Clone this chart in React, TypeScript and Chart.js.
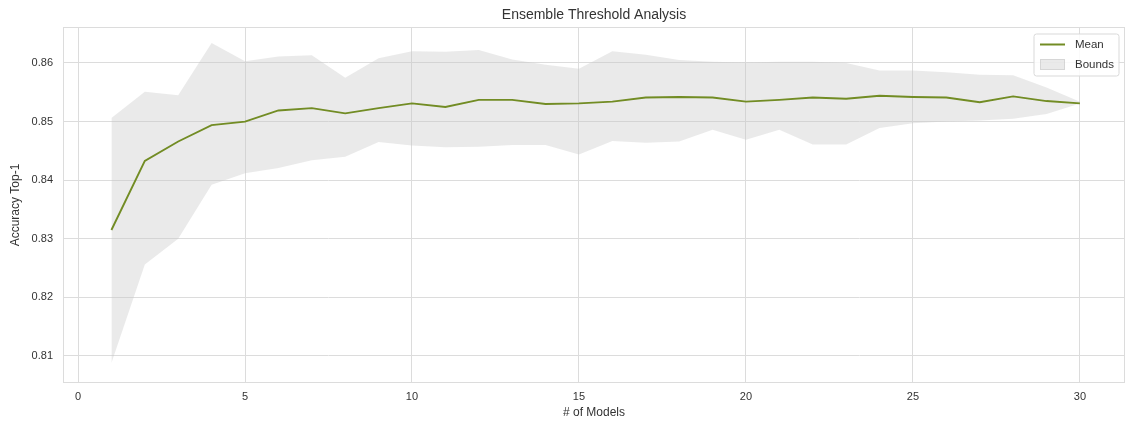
import React, { useEffect, useRef } from "react";
import { Chart, registerables } from "chart.js";

Chart.register(...registerables);

// Ensemble size on the x axis
const modelCounts = [
  1, 2, 3, 4, 5, 6, 7, 8, 9, 10, 11, 12, 13, 14, 15,
  16, 17, 18, 19, 20, 21, 22, 23, 24, 25, 26, 27, 28, 29, 30,
];

// Mean top-1 accuracy per ensemble size
const meanAccuracy = [
  0.8315, 0.8433, 0.8466, 0.8494, 0.85, 0.8519, 0.8523, 0.8514, 0.8523, 0.8531,
  0.8525, 0.8537, 0.8537, 0.853, 0.8531, 0.8534, 0.8541, 0.8542, 0.8541, 0.8534,
  0.8537, 0.8541, 0.8539, 0.8544, 0.8542, 0.8541, 0.8533, 0.8543, 0.8535, 0.8531,
];

// Upper and lower bounds of the accuracy spread
const upperBound = [
  0.8506, 0.8551, 0.8545, 0.8634, 0.8603, 0.8611, 0.8613, 0.8575, 0.8608, 0.862,
  0.8619, 0.8622, 0.8606, 0.8597, 0.859, 0.862, 0.8614, 0.8605, 0.8602, 0.8601,
  0.8602, 0.8602, 0.86, 0.8587, 0.8587, 0.8584, 0.858, 0.8579, 0.8558, 0.8534,
];

const lowerBound = [
  0.8088, 0.8256, 0.83, 0.8392, 0.8412, 0.8421, 0.8434, 0.844, 0.8465, 0.8459,
  0.8456, 0.8457, 0.846, 0.846, 0.8444, 0.8467, 0.8464, 0.8466, 0.8486, 0.8469,
  0.8486, 0.8461, 0.8461, 0.8489, 0.8497, 0.85, 0.8502, 0.8505, 0.8513, 0.8531,
];

const xTickValues = [0, 5, 10, 15, 20, 25, 30];
const yTickValues = [0.81, 0.82, 0.83, 0.84, 0.85, 0.86];

const FONT = "'Liberation Sans', Arial, sans-serif";
const TEXT_COLOR = "#333333";
const GRID_COLOR = "#dcdcdc";
const MEAN_COLOR = "#728c24";
const BAND_COLOR = "rgba(200, 200, 200, 0.38)";

const toPoints = (values: number[]) =>
  modelCounts.map((x, i) => ({ x, y: values[i] }));

// Light frame around the plotting area
const framePlugin = {
  id: "plotFrame",
  beforeDatasetsDraw(chart: any) {
    const { ctx, chartArea } = chart;
    ctx.save();
    ctx.strokeStyle = GRID_COLOR;
    ctx.lineWidth = 1;
    ctx.strokeRect(
      Math.round(chartArea.left) + 0.5,
      Math.round(chartArea.top) + 0.5,
      Math.round(chartArea.right - chartArea.left) - 1,
      Math.round(chartArea.bottom - chartArea.top) - 1
    );
    ctx.restore();
  },
};

// Legend drawn inside the upper-right corner of the plot
const insideLegendPlugin = {
  id: "insideLegend",
  afterDatasetsDraw(chart: any) {
    const { ctx, chartArea } = chart;
    const datasets = chart.data.datasets;
    const meanSet = datasets[0];
    const bandSet = datasets[2];
    const w = 85;
    const h = 42;
    const right = chartArea.right - 6;
    const left = right - w;
    const top = chartArea.top + 7;

    ctx.save();
    ctx.beginPath();
    const r = 2.5;
    ctx.moveTo(left + r, top);
    ctx.lineTo(left + w - r, top);
    ctx.quadraticCurveTo(left + w, top, left + w, top + r);
    ctx.lineTo(left + w, top + h - r);
    ctx.quadraticCurveTo(left + w, top + h, left + w - r, top + h);
    ctx.lineTo(left + r, top + h);
    ctx.quadraticCurveTo(left, top + h, left, top + h - r);
    ctx.lineTo(left, top + r);
    ctx.quadraticCurveTo(left, top, left + r, top);
    ctx.closePath();
    ctx.fillStyle = "rgba(255,255,255,0.85)";
    ctx.fill();
    ctx.strokeStyle = "#d9d9d9";
    ctx.lineWidth = 1;
    ctx.stroke();

    // Mean entry
    ctx.strokeStyle = meanSet.borderColor;
    ctx.lineWidth = 2;
    ctx.beginPath();
    ctx.moveTo(left + 6, top + 10.5);
    ctx.lineTo(left + 31, top + 10.5);
    ctx.stroke();

    // Bounds entry
    ctx.fillStyle = bandSet.backgroundColor;
    ctx.fillRect(left + 6, top + 25, 25, 11);
    ctx.strokeStyle = "rgba(200,200,200,0.6)";
    ctx.lineWidth = 1;
    ctx.strokeRect(left + 6.5, top + 25.5, 24, 10);

    ctx.fillStyle = TEXT_COLOR;
    ctx.font = `11.5px ${FONT}`;
    ctx.textAlign = "left";
    ctx.textBaseline = "middle";
    ctx.fillText(meanSet.label, left + 41, top + 11);
    ctx.fillText(bandSet.label, left + 41, top + 31);
    ctx.restore();
  },
};

export default function App() {
  const canvasRef = useRef<HTMLCanvasElement | null>(null);

  useEffect(() => {
    if (!canvasRef.current) return;
    Chart.defaults.font.family = FONT;
    Chart.defaults.color = TEXT_COLOR;

    const chart = new Chart(canvasRef.current, {
      type: "line",
      data: {
        datasets: [
          {
            label: "Mean",
            data: toPoints(meanAccuracy),
            borderColor: MEAN_COLOR,
            borderWidth: 1.9,
            pointRadius: 0,
            tension: 0,
            fill: false,
          },
          {
            label: "Lower",
            data: toPoints(lowerBound),
            borderColor: "transparent",
            borderWidth: 0,
            pointRadius: 0,
            tension: 0,
            fill: false,
          },
          {
            label: "Bounds",
            data: toPoints(upperBound),
            borderColor: "transparent",
            backgroundColor: BAND_COLOR,
            borderWidth: 0,
            pointRadius: 0,
            tension: 0,
            fill: "-1",
          },
        ],
      },
      options: {
        animation: false,
        responsive: true,
        maintainAspectRatio: false,
        layout: { padding: { left: 0, right: 5, top: 0, bottom: 0 } },
        plugins: {
          legend: { display: false },
          tooltip: { enabled: false },
          title: {
            display: true,
            fullSize: false,
            text: "Ensemble Threshold Analysis",
            color: TEXT_COLOR,
            font: { size: 14, weight: "normal", family: FONT },
            padding: { top: 6.5, bottom: 3.7 },
          },
        },
        scales: {
          x: {
            type: "linear",
            min: -0.45,
            max: 31.35,
            afterBuildTicks: (scale: any) => {
              scale.ticks = xTickValues.map((v) => ({ value: v }));
            },
            afterFit: (scale: any) => {
              scale.height = 40;
            },
            grid: { color: GRID_COLOR, lineWidth: 1, drawTicks: false },
            border: { display: false },
            ticks: {
              color: TEXT_COLOR,
              font: { size: 11, family: FONT },
              padding: 7,
              maxRotation: 0,
              callback: (v: any) => String(v),
            },
            title: {
              display: true,
              text: "# of Models",
              color: TEXT_COLOR,
              font: { size: 12, family: FONT },
              padding: { top: 0, bottom: 3 },
            },
          },
          y: {
            type: "linear",
            min: 0.80539,
            max: 0.86614,
            afterBuildTicks: (scale: any) => {
              scale.ticks = yTickValues.map((v) => ({ value: v }));
            },
            afterFit: (scale: any) => {
              scale.width = 63;
            },
            grid: { color: GRID_COLOR, lineWidth: 1, drawTicks: false },
            border: { display: false },
            ticks: {
              color: TEXT_COLOR,
              font: { size: 11, family: FONT },
              padding: 10,
              callback: (v: any) => Number(v).toFixed(2),
            },
            title: {
              display: true,
              text: "Accuracy Top-1",
              color: TEXT_COLOR,
              font: { size: 12, family: FONT },
              padding: { top: 8, bottom: 0 },
            },
          },
        },
      },
      plugins: [framePlugin, insideLegendPlugin],
    } as any);

    return () => chart.destroy();
  }, []);

  return (
    <div
      style={{
        position: "fixed",
        left: 0,
        top: 0,
        width: 1130,
        height: 423,
        background: "#ffffff",
      }}
    >
      <canvas ref={canvasRef} />
    </div>
  );
}
